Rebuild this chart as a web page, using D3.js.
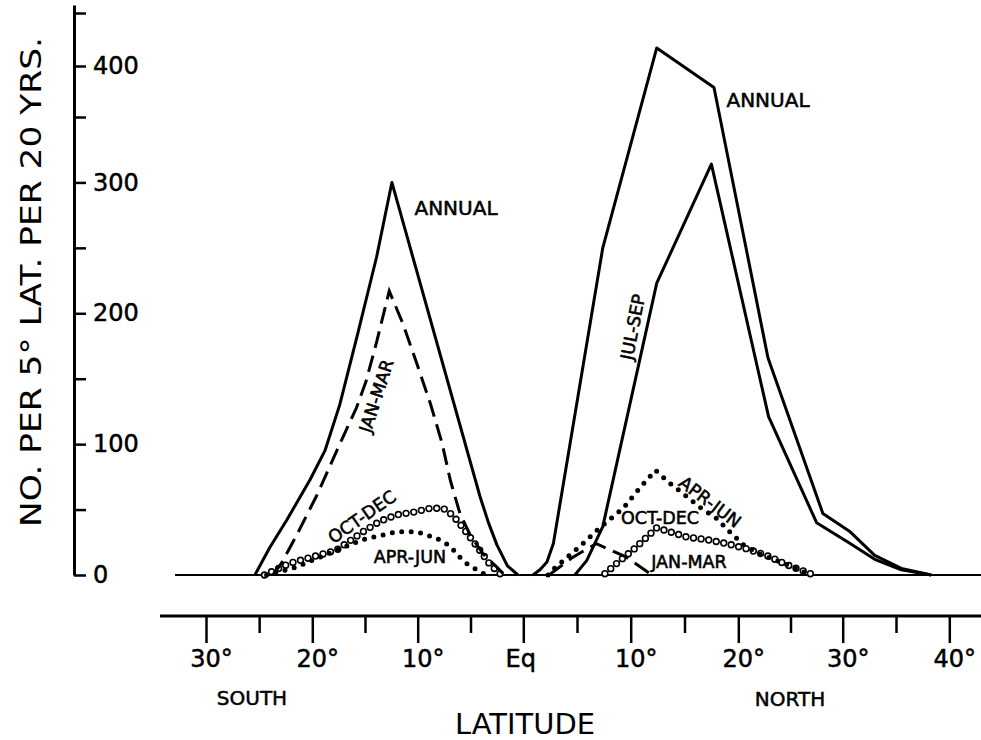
<!DOCTYPE html>
<html><head><meta charset="utf-8">
<script src="https://cdn.jsdelivr.net/npm/d3@7"></script>
<style>
html,body{margin:0;padding:0;background:#fff;}
svg{display:block;font-family:"DejaVu Sans",sans-serif;}
</style></head><body>
<svg id="chart" width="981" height="740"></svg>
<script>
// ---------- tick data ----------
const latTicks = [-30,-25,-20,-15,-10,-5,0,5,10,15,20,25,30,35,40];
const latTickLabels = ["30°","","20°","","10°","","Eq","","10°","","20°","","30°","","40°"];
const countTicks = [0,50,100,150,200,250,300,350,400,450];
const countTickLabels = ["0","","100","","200","","300","","400",""];

// ---------- series (latitude, count per 5° lat per 20 yrs) ----------
const annualSouthLat = [-25.4,-24,-22.4,-20.2,-18.8,-17.4,-15.7,-13.9,-12.45,-4.1,-3.3,-2.5,-1.5,-0.5];
const annualSouthVal = [0,21,42,73,95,130,184,243,300,60,40,23,7,0];

const janMarSouthLat = [-23.7,-22.9,-21.5,-19.5,-17.4,-15.8,-14.9,-13.9,-12.7,-11.4,-10.1,-8.8,-7.7,-6.9,-6.0,-5.0,-3.8,-2.5,-1.8];
const janMarSouthVal = [0,9,30,62,100,128,148,178,217,192,162,131,101,72,47,30,16,6,0];

const aprJunSouthLat = [-24.3,-21.5,-18.3,-15.2,-12.0,-10.1,-8.2,-6.9,-6.2,-5.4,-4.1,-3.5];
const aprJunSouthVal = [0,6,17,27,33,33,28,22,15,9,2.5,0];

const octDecSouthLat = [-24.5,-22.1,-19.9,-17.7,-15.2,-13.6,-12.0,-10.4,-8.8,-7.6,-6.9,-6.3,-5.7,-4.4,-3.15,-2.2];
const octDecSouthVal = [0,9,14,19,33,41,46,48,51,51,47,42,36,22,8,1];

const annualNorthLat = [0.9,1.55,2.2,2.8,7.4,12.42,17.74,22.84,28.1,30.7,33,35.5,38.3];
const annualNorthVal = [0,4,10,24,250,417,379,166,47,33,15,5,0];

const julSepNorthLat = [4.8,5.9,7.4,12.42,17.5,22.9,27.5,30.7,33,35.5,38.3];
const julSepNorthVal = [0,11,37,223,314,121,40,24,12,4,0];

const janMarNorthLat = [2.4,4.5,6.8,9.5,12.0];
const janMarNorthVal = [0,13,24,14,0];

const aprJunNorthLat = [2.3,3.0,5.3,7.1,9.3,10.9,12.3,13.65,14.9,16.4,18.0,19.2,20.5,22.1,24.0,25.6,26.9];
const aprJunNorthVal = [0,6,22,36,51,67,80,70,62,52,43,33,23,16,10,5,0];

const octDecNorthLat = [7.6,9.0,10.2,11.5,12.4,13.65,15.2,17.1,18.9,20.8,22.7,24.6,26.9];
const octDecNorthVal = [1,11,19,29,36,33,29,27,24,20,15,8,1];

// ---------- layout ----------
const W = 981, H = 740;
const svg = d3.select("#chart");
const x = d3.scaleLinear().domain([-30,-20,-10,0,10,20,30,40])
  .range([206,312.3,417.7,523.3,630.7,738.3,842.7,949.3]);
const y = d3.scaleLinear().domain([0,350,400,450,456]).range([575,117,66,13,5]);
const pts = (lats, vals) => lats.map((l,i)=>[l, vals[i]]);
const line = d3.line().x(d=>x(d[0])).y(d=>y(d[1]));

// zero baseline
svg.append("line").attr("x1",175).attr("x2",W).attr("y1",y(0)).attr("y2",y(0))
  .attr("stroke","#000").attr("stroke-width",2.2);

// y axis
const yAxis = svg.append("g").attr("transform","translate(74,0)")
  .call(d3.axisRight(y).tickValues(countTicks).tickSize(12).tickSizeOuter(0).tickPadding(7)
    .tickFormat((d,i)=>countTickLabels[i]));
yAxis.attr("font-size",24).attr("font-family","DejaVu Sans, sans-serif");
yAxis.select(".domain").attr("stroke","#000").attr("stroke-width",3);
yAxis.selectAll(".tick line").attr("stroke","#000").attr("stroke-width",2.5);
yAxis.selectAll(".tick text").attr("fill","#000").attr("stroke","#000").attr("stroke-width",0.5);

// y title
svg.append("text").attr("transform","translate(31,282) rotate(-90)")
  .attr("text-anchor","middle").attr("dominant-baseline","central")
  .attr("font-size",29).attr("textLength",490).attr("lengthAdjust","spacingAndGlyphs")
  .text("NO. PER 5° LAT. PER 20 YRS.");

// x axis
const xAxisY = 616;
svg.append("line").attr("x1",160).attr("x2",W).attr("y1",xAxisY).attr("y2",xAxisY)
  .attr("stroke","#000").attr("stroke-width",3.2);
const xAxis = svg.append("g").attr("transform",`translate(0,${xAxisY})`)
  .call(d3.axisBottom(x).tickValues(latTicks).tickSize(27).tickSizeOuter(0)
    .tickFormat((d,i)=>latTickLabels[i]));
xAxis.attr("font-size",24).attr("font-family","DejaVu Sans, sans-serif");
xAxis.select(".domain").remove();
xAxis.selectAll(".tick line").attr("stroke","#000").attr("stroke-width",2.5)
  .attr("y1",1).attr("y2",(d,i)=>latTickLabels[i] ? 27 : 17);
xAxis.selectAll(".tick text").attr("fill","#000").attr("stroke","#000").attr("stroke-width",0.5)
  .attr("y",51).attr("dy",0)
  .attr("dx",(d,i)=>latTickLabels[i]==="Eq" ? -3 : 5);

const hemi = svg.append("g").attr("font-size",20).attr("stroke","#000").attr("stroke-width",0.5).attr("text-anchor","middle");
hemi.append("text").attr("x",252).attr("y",705).text("SOUTH");
hemi.append("text").attr("x",790).attr("y",706).text("NORTH");
svg.append("text").attr("x",525).attr("y",734).attr("text-anchor","middle").attr("font-size",29)
  .attr("textLength",140).attr("lengthAdjust","spacingAndGlyphs").text("LATITUDE");

// ---------- series ----------
const plot = svg.append("g");

function openCircles(data){
  const p = plot.append("path").attr("d", line(data)).attr("fill","none").attr("stroke","none");
  const node = p.node(), L = node.getTotalLength(), n = Math.max(1, Math.round(L/7.8));
  plot.append("g").selectAll("circle").data(d3.range(n+1).map(i=>node.getPointAtLength(i*L/n)))
    .join("circle").attr("cx",d=>d.x).attr("cy",d=>d.y).attr("r",2.9)
    .attr("fill","#fff").attr("stroke","#000").attr("stroke-width",1.6);
}
function dots(data){
  plot.append("path").attr("d", line(data)).attr("fill","none").attr("stroke","#000")
    .attr("stroke-width",5).attr("stroke-linecap","round").attr("stroke-dasharray","0 9.5");
}
function dashed(data){
  plot.append("path").attr("d", line(data)).attr("fill","none").attr("stroke","#000")
    .attr("stroke-width",3).attr("stroke-dasharray","17 8");
}
function solid(data){
  plot.append("path").attr("d", line(data)).attr("fill","none").attr("stroke","#000")
    .attr("stroke-width",3).attr("stroke-linejoin","round");
}

openCircles(pts(octDecSouthLat, octDecSouthVal));
openCircles(pts(octDecNorthLat, octDecNorthVal));
dots(pts(aprJunSouthLat, aprJunSouthVal));
dots(pts(aprJunNorthLat, aprJunNorthVal));
dashed(pts(janMarSouthLat, janMarSouthVal));
dashed(pts(janMarNorthLat, janMarNorthVal));
solid(pts(annualSouthLat, annualSouthVal));
solid(pts(annualNorthLat, annualNorthVal));
solid(pts(julSepNorthLat, julSepNorthVal));

// ---------- curve labels ----------
const lab = svg.append("g").attr("fill","#000").attr("stroke","#000").attr("stroke-width",0.55);
function label(txt, cx, cy, rot, size){
  lab.append("text").attr("transform",`translate(${cx},${cy}) rotate(${rot})`)
    .attr("text-anchor","middle").attr("dominant-baseline","central")
    .attr("font-size", size || 17.5).text(txt);
}
label("ANNUAL", 456, 208, 0, 20);
label("ANNUAL", 768, 100, 0, 20);
label("JAN-MAR", 376.5, 396, -72);
label("JUL-SEP", 633, 327, -79);
label("OCT-DEC", 362, 517, -35);
label("APR-JUN", 410, 557, 0);
label("APR-JUN", 710, 502, 37);
label("OCT-DEC", 660, 518, 0);
label("JAN-MAR", 689, 562, 0);
</script>
</body></html>
